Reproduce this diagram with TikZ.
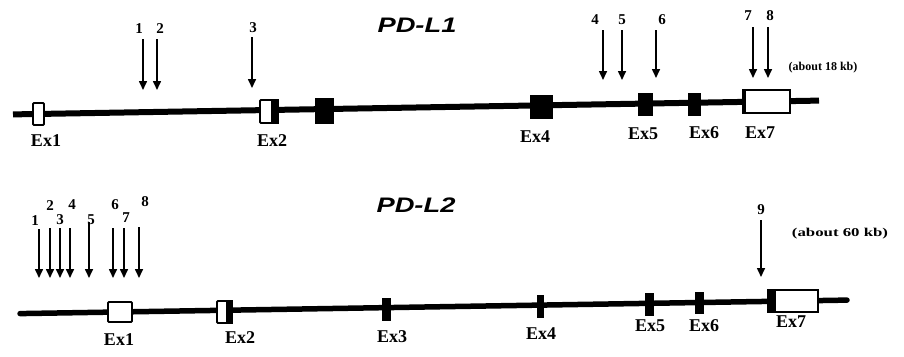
\documentclass[tikz,border=0pt]{standalone}
\usepackage{fontspec}
\setmainfont{Liberation Serif}
\newfontfamily\genefont{Liberation Sans}
\usetikzlibrary{arrows.meta}

\begin{document}
\begin{tikzpicture}[x=1pt,y=-1pt,
  gene/.style={line width=6pt},
  whiteexon/.style={draw,fill=white,line width=1.8pt,inner sep=0pt,rounded corners=1pt},
  blackexon/.style={draw,fill=black,line width=0.6pt,inner sep=0pt},
  exlabel/.style={font=\bfseries\fontsize{18}{18}\selectfont,inner sep=0pt},
  num/.style={font=\bfseries\fontsize{15}{15}\selectfont,inner sep=0pt},
  site/.style={line width=1.6pt,-{Triangle[width=8pt,length=9pt]}},
  genetitle/.style={font=\genefont\bfseries\itshape\fontsize{21}{21}\selectfont,inner sep=0pt},
  genesize/.style={font=\bfseries\fontsize{12}{12}\selectfont,inner sep=0pt}]

\useasboundingbox[fill=white] (0,0) rectangle (904,356);

% ---------------- PD-L1 ----------------
\node[genetitle] (t1) at (417,25.5) {\scalebox{1.3}[1]{PD-L1}};
\node[genesize] (kb1) at (823,68) {(about 18 kb)};

\coordinate (g1a) at (13,114.4);
\coordinate (g1b) at (819,100.6);
\draw[gene] (g1a) -- (g1b);

\node[whiteexon,minimum width=11pt,minimum height=22pt] (pa1) at (38.5,114) {};
\node[whiteexon,minimum width=18pt,minimum height=23pt] (pa2) at (269,111.5) {};
\fill ([xshift=-8pt]pa2.north east) rectangle (pa2.south east);
\node[blackexon,minimum width=18pt,minimum height=25pt] (pa3) at (324,110.5) {};
\node[blackexon,minimum width=22pt,minimum height=23pt] (pa4) at (541,106.5) {};
\node[blackexon,minimum width=14pt,minimum height=22pt] (pa5) at (645,104) {};
\node[blackexon,minimum width=12pt,minimum height=22pt] (pa6) at (694,104) {};
\node[whiteexon,rounded corners=0pt,minimum width=47pt,minimum height=23pt] (pa7) at (766.5,101.5) {};
\fill (pa7.north west) rectangle ([xshift=4pt]pa7.south west);

\node[exlabel] (la1) at (46,141) {Ex1};
\node[exlabel] (la2) at (272,141) {Ex2};
\node[exlabel] (la4) at (535,137) {Ex4};
\node[exlabel] (la5) at (643,134) {Ex5};
\node[exlabel] (la6) at (704,133) {Ex6};
\node[exlabel] (la7) at (760,133) {Ex7};

% sites along PD-L1
\foreach \i/\x/\nx/\ny/\top/\tip in {1/143/139/29/39/90, 2/157/160/29/39/90, 3/252/253/27.5/37/88,
    4/603/595/20/30/80, 5/622/622/20/30/80, 6/656/662/20/30/78,
    7/753/748/16/27/78, 8/768/770/16/27/78} {
  \node[num] (pn\i) at (\nx,\ny) {\i};
  \coordinate (ps\i) at (\x,\top);
  \coordinate (pe\i) at (\x,\tip);
  \draw[site] (ps\i) -- (pe\i);
}

% ---------------- PD-L2 ----------------
\node[genetitle] (t2) at (416,205.5) {\scalebox{1.3}[1]{PD-L2}};
\node[genesize] (kb2) at (840,234) {\scalebox{1.4}[1]{(about 60 kb)}};

\coordinate (g2a) at (20,313.6);
\coordinate (g2b) at (847,300.1);
\draw[gene,line width=5.5pt,line cap=round] (g2a) -- (g2b);

\node[whiteexon,minimum width=24pt,minimum height=20pt] (pb1) at (120,312) {};
\node[whiteexon,minimum width=15pt,minimum height=22pt] (pb2) at (224.5,312) {};
\fill ([xshift=-7pt]pb2.north east) rectangle (pb2.south east);
\node[blackexon,minimum width=8pt,minimum height=22pt] (pb3) at (386,309) {};
\node[blackexon,minimum width=6pt,minimum height=22pt] (pb4) at (540,306) {};
\node[blackexon,minimum width=8pt,minimum height=22pt] (pb5) at (649,304) {};
\node[blackexon,minimum width=8pt,minimum height=21pt] (pb6) at (699,302.5) {};
\node[whiteexon,rounded corners=0pt,minimum width=50pt,minimum height=22pt] (pb7) at (793,301) {};
\fill (pb7.north west) rectangle ([xshift=9pt]pb7.south west);

\node[exlabel] (lb1) at (119,340) {Ex1};
\node[exlabel] (lb2) at (240,338) {Ex2};
\node[exlabel] (lb3) at (392,337) {Ex3};
\node[exlabel] (lb4) at (541,334) {Ex4};
\node[exlabel] (lb5) at (650,326) {Ex5};
\node[exlabel] (lb6) at (704,326) {Ex6};
\node[exlabel] (lb7) at (791,322) {Ex7};

% sites along PD-L2
\foreach \i/\x/\nx/\ny/\top/\tip in {1/39/35/221/229/278, 2/50/50/206/228/278, 3/60/60/220/228/278,
    4/70/72/205/228/278, 5/89/91/220/222/278, 6/113/115/205/228/278,
    7/124/126/218/228/278, 8/139/145/202/227/278, 9/761/761/210/220/277} {
  \node[num] (qn\i) at (\nx,\ny) {\i};
  \coordinate (qs\i) at (\x,\top);
  \coordinate (qe\i) at (\x,\tip);
  \draw[site] (qs\i) -- (qe\i);
}
\end{tikzpicture}
\end{document}
